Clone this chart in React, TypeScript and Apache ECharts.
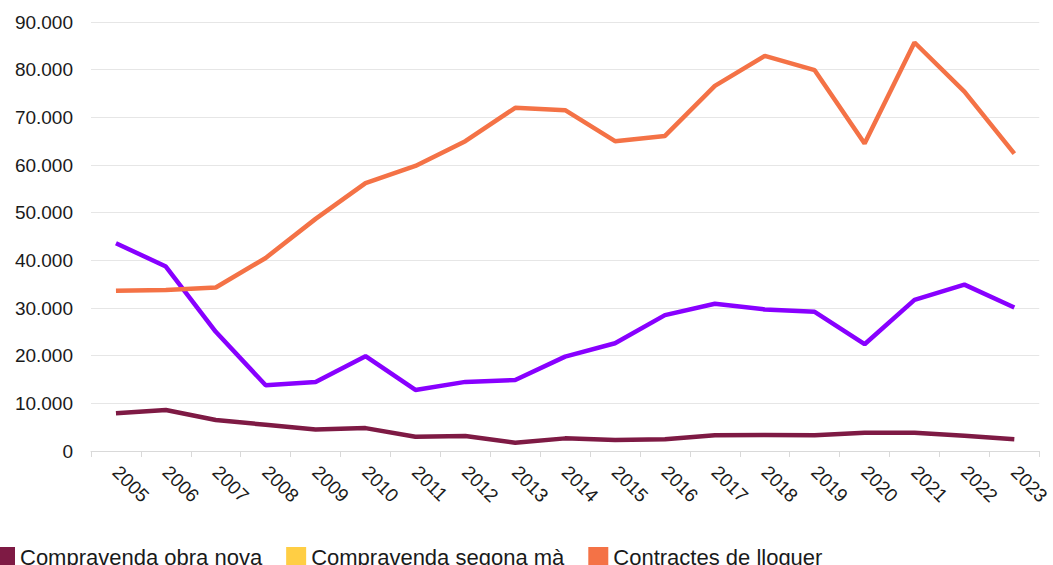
import React, { useEffect, useRef } from "react";
import * as echarts from "echarts";

const years = ["2005","2006","2007","2008","2009","2010","2011","2012","2013","2014","2015","2016","2017","2018","2019","2020","2021","2022","2023"];
const obraNova = [7900, 8600, 6500, 5500, 4500, 4800, 3000, 3150, 1750, 2650, 2300, 2450, 3300, 3350, 3300, 3850, 3850, 3200, 2450];
const segonaMa = [43600, 38700, 25000, 13800, 14500, 19900, 12800, 14500, 14900, 19800, 22600, 28500, 30900, 29700, 29200, 22400, 31700, 34900, 30100];
const lloguer = [33600, 33800, 34300, 40500, 48700, 56200, 59800, 65000, 72000, 71500, 65000, 66100, 76600, 82900, 79900, 64500, 85700, 75400, 62400];

const FONT = "'Liberation Sans', Arial, sans-serif";

export default function App() {
  const ref = useRef<HTMLDivElement>(null);
  useEffect(() => {
    if (!ref.current) return;
    const chart = echarts.init(ref.current, undefined, { renderer: "svg" });
    chart.setOption({
      animation: false,
      textStyle: { fontFamily: FONT },
      grid: { left: 91, right: 12, top: 22, bottom: 114, containLabel: false },
      legend: {
        left: -10,
        top: 541,
        icon: "rect",
        itemWidth: 20,
        itemHeight: 20,
        itemGap: 24,
        textStyle: { fontSize: 22, color: "#1a1a1a", fontFamily: FONT },
        data: ["Compravenda obra nova", "Compravenda segona mà", "Contractes de lloguer"],
      },
      xAxis: {
        type: "category",
        data: years,
        boundaryGap: true,
        axisLine: { show: true, lineStyle: { color: "#d9d9d9", width: 1 } },
        axisTick: { show: true, length: 6, lineStyle: { color: "#d9d9d9" } },
        axisLabel: { rotate: -45, fontSize: 19, color: "#1a1a1a", margin: 18, interval: 0, fontFamily: FONT },
        splitLine: { show: false },
      },
      yAxis: {
        type: "value",
        min: 0,
        max: 90000,
        interval: 10000,
        axisLine: { show: false },
        axisTick: { show: false },
        axisLabel: {
          fontSize: 19,
          color: "#1a1a1a",
          margin: 18,
          fontFamily: FONT,
          formatter: (v: number) => (v === 0 ? "0" : String(v / 1000) + ".000"),
        },
        splitLine: { show: true, lineStyle: { color: "#e6e6e6", width: 1 } },
      },
      series: [
        {
          name: "Compravenda obra nova",
          type: "line",
          data: obraNova,
          symbol: "none",
          itemStyle: { color: "#7E1A44" },
          lineStyle: { color: "#7E1A44", width: 4.5 },
        },
        {
          name: "Compravenda segona mà",
          type: "line",
          data: segonaMa,
          symbol: "none",
          itemStyle: { color: "#FFCE44" },
          lineStyle: { color: "#8800FF", width: 4.5 },
        },
        {
          name: "Contractes de lloguer",
          type: "line",
          data: lloguer,
          symbol: "none",
          itemStyle: { color: "#F47246" },
          lineStyle: { color: "#F47246", width: 4.5 },
        },
      ],
    });
    return () => chart.dispose();
  }, []);
  return (
    <div
      ref={ref}
      style={{ position: "fixed", left: 0, top: 0, width: 1053, height: 565, background: "#fff" }}
    />
  );
}
